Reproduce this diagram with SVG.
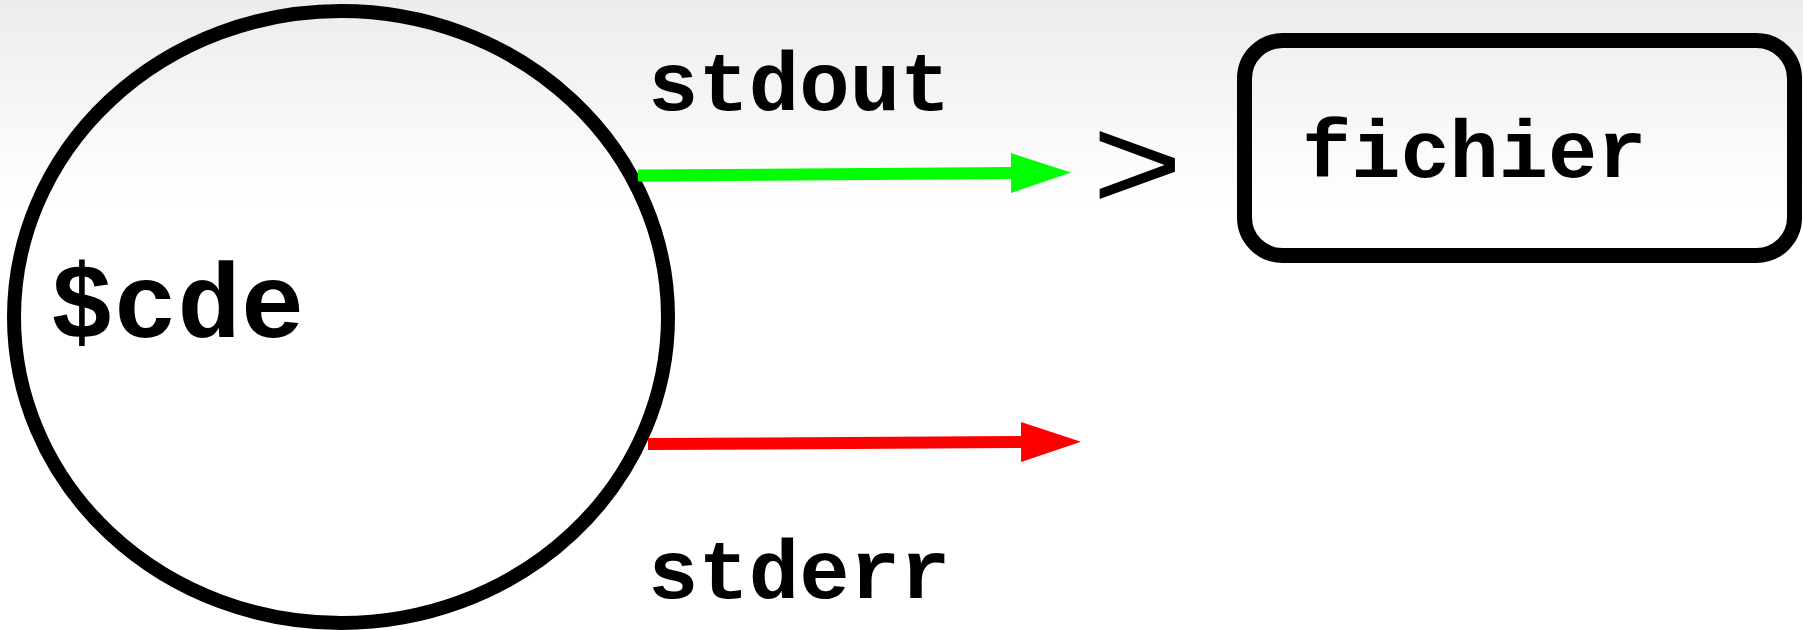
<svg xmlns="http://www.w3.org/2000/svg" width="1803" height="630" viewBox="0 0 1803 630">
  <defs>
    <linearGradient id="bg" x1="0" y1="0" x2="0" y2="205" gradientUnits="userSpaceOnUse">
      <stop offset="0" stop-color="#ececec"/>
      <stop offset="1" stop-color="#ffffff"/>
    </linearGradient>
    <marker id="head-green" markerUnits="userSpaceOnUse" markerWidth="60" markerHeight="40" refX="0" refY="20" orient="auto" viewBox="0 0 60 40">
      <path d="M0,0 L60,20 L0,40 Z" fill="#00ff00"/>
    </marker>
    <marker id="head-red" markerUnits="userSpaceOnUse" markerWidth="60" markerHeight="40" refX="0" refY="20" orient="auto" viewBox="0 0 60 40">
      <path d="M0,0 L60,20 L0,40 Z" fill="#ff0000"/>
    </marker>
  </defs>
  <style>
    .shape { fill: none; stroke: #000; }
    .mono { font-family: "Liberation Mono", "Courier New", monospace; font-weight: bold; fill: #000; }
    .sans { font-family: "Liberation Sans", Arial, sans-serif; fill: #000; }
    .flow { stroke-width: 12; fill: none; }
  </style>

  <rect x="0" y="0" width="1803" height="630" fill="url(#bg)"/>

  <!-- the command -->
  <g id="cde">
    <ellipse class="shape" cx="341" cy="317" rx="327" ry="306" stroke-width="14"/>
    <text class="mono" x="50" y="337" font-size="106">$cde</text>
  </g>

  <!-- redirection target -->
  <g id="fichier">
    <rect class="shape" x="1244.5" y="40.5" width="550" height="215" rx="38" ry="38" stroke-width="15"/>
    <text class="mono" x="1302" y="177" font-size="82">fichier</text>
  </g>

  <g id="redirect">
    <text class="sans" x="1092" y="216" font-size="155" transform="matrix(1 0 0 0.86 0 23)">&gt;</text>
  </g>

  <!-- output streams -->
  <g id="connectors">
    <line class="flow" x1="638" y1="175.5" x2="1011" y2="173" stroke="#00ff00" marker-end="url(#head-green)"/>
    <line class="flow" x1="648" y1="444" x2="1021" y2="442" stroke="#ff0000" marker-end="url(#head-red)"/>
  </g>

  <g id="labels">
    <text class="mono" x="648" y="110" font-size="84">stdout</text>
    <text class="mono" x="648" y="598" font-size="84">stderr</text>
  </g>
</svg>
